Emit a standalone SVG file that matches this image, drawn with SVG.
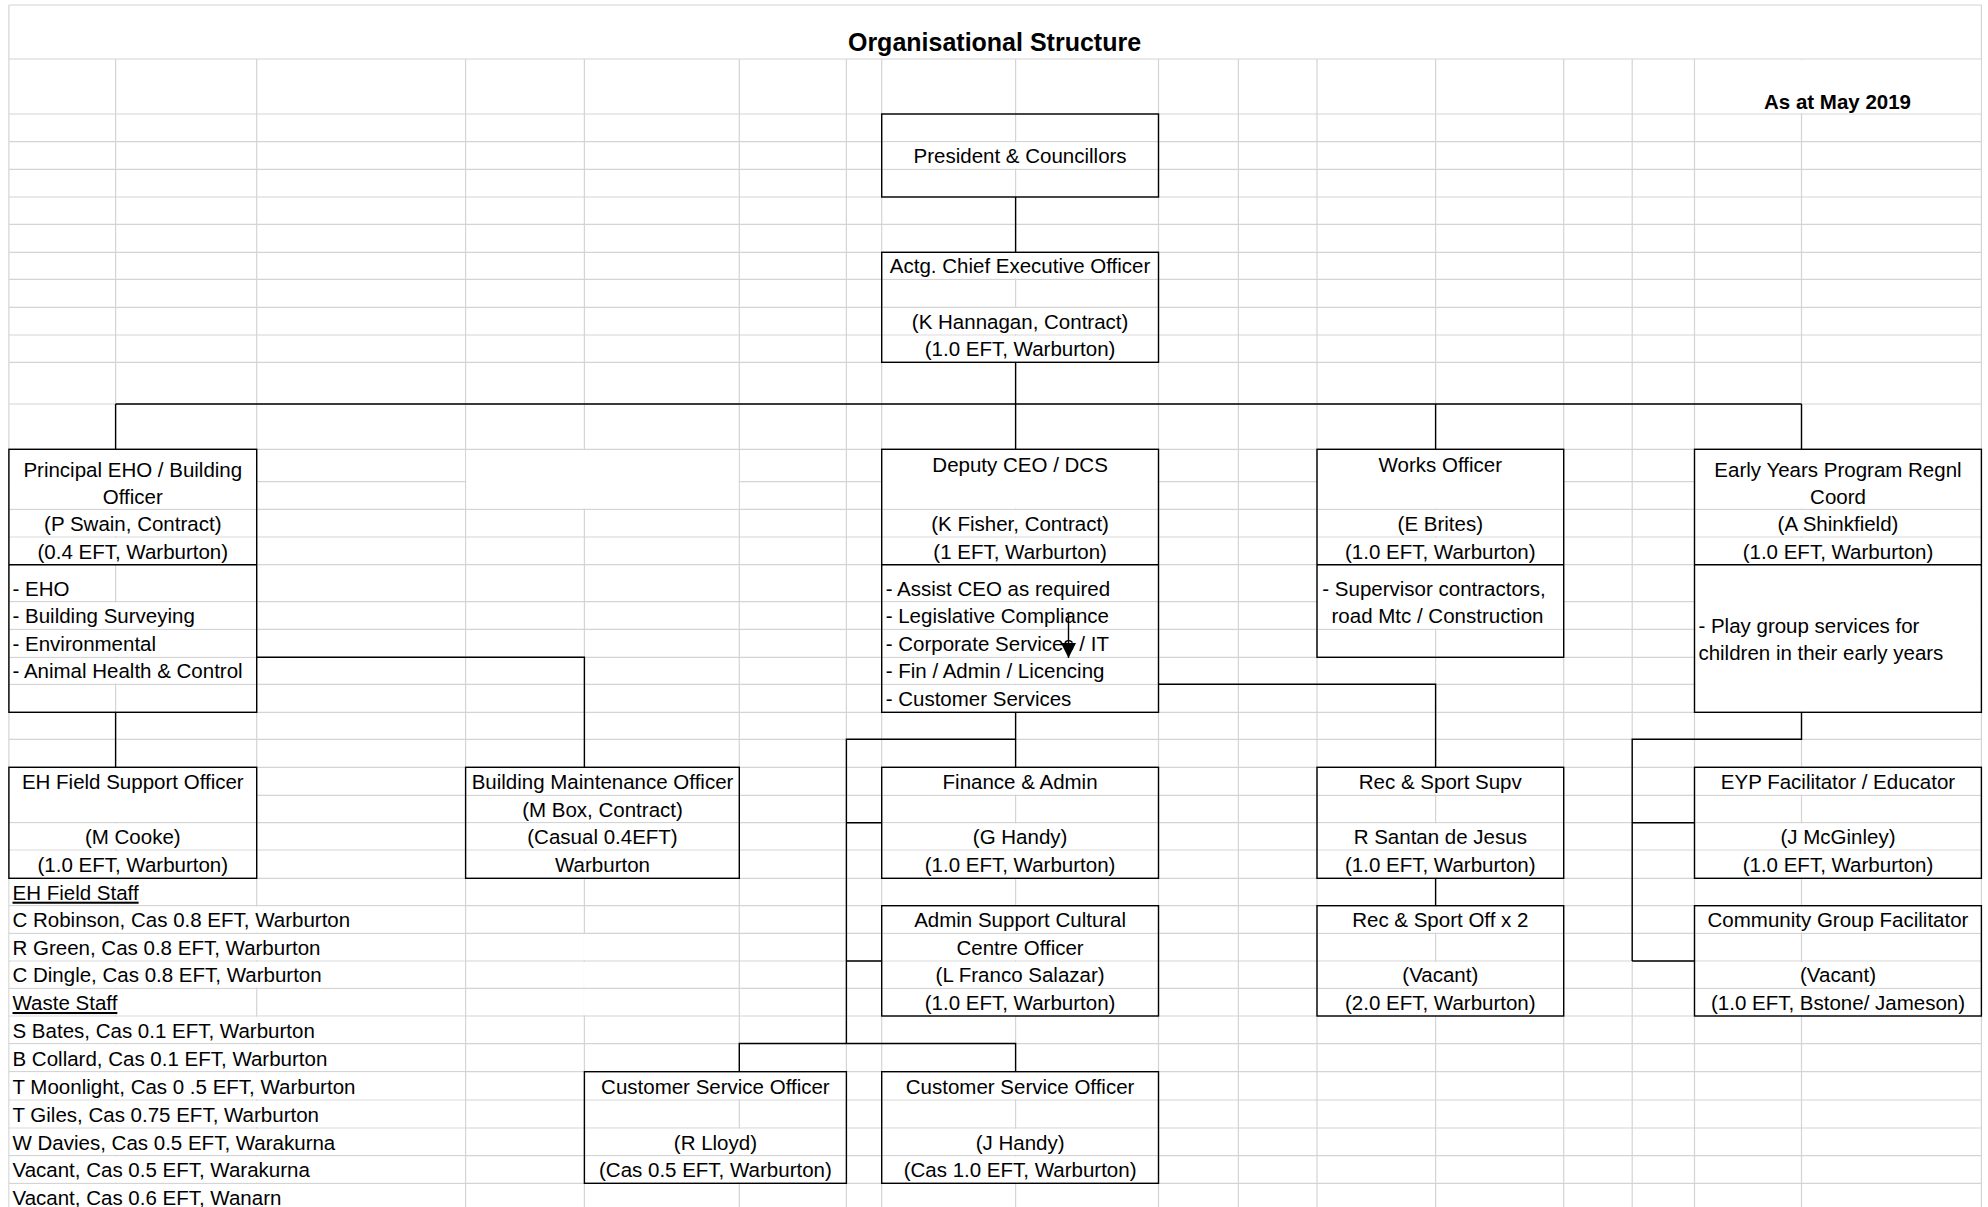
<svg xmlns="http://www.w3.org/2000/svg" width="1988" height="1207" viewBox="0 0 1988 1207">
<style>
.g{stroke:#d4d4d4;stroke-width:1.2;fill:none}
.m{fill:#fff}
.b{fill:none;stroke:#000;stroke-width:1.4}
.c{fill:none;stroke:#000;stroke-width:1.4}
text{font-family:"Liberation Sans",Arial,sans-serif;font-size:20.5px;fill:#000}
.t{text-anchor:middle}
.u{text-decoration:underline}
.h{font-weight:bold;font-size:25px}
.k{font-weight:bold}
</style>
<defs>
<marker id="ah" markerUnits="userSpaceOnUse" viewBox="0 0 15 15" refX="15" refY="7.5" markerWidth="15" markerHeight="15" orient="auto">
<path d="M0,0 L15,7.5 L0,15 z" fill="#000"/>
</marker>
</defs>
<rect width="1988" height="1207" fill="#fff"/>
<g id="grid">
<path class="g" d="M8.9,5V1207M1981.4,5V1207M115.6,59V1207M256.7,59V1207M465.6,59V1207M584.4,59V1207M739.3,59V1207M846.4,59V1207M881.7,59V1207M1015.6,59V1207M1158.5,59V1207M1238.4,59V1207M1317,59V1207M1435.6,59V1207M1563.7,59V1207M1632.2,59V1207M1694.5,59V1207M1801.5,59V1207
M8.9,5H1981.4M8.9,59H1981.4M8.9,114H1981.4M8.9,141.7H1981.4M8.9,169.3H1981.4M8.9,197H1981.4M8.9,224.3H1981.4M8.9,252.3H1981.4M8.9,279.3H1981.4M8.9,307.3H1981.4M8.9,335H1981.4M8.9,362.3H1981.4M8.9,404H1981.4M8.9,449.3H1981.4M8.9,481.7H1981.4M8.9,509.3H1981.4M8.9,537H1981.4M8.9,564.7H1981.4M8.9,601.7H1981.4M8.9,629.3H1981.4M8.9,657.3H1981.4M8.9,684.3H1981.4M8.9,712.3H1981.4M8.9,739.3H1981.4M8.9,767.3H1981.4M8.9,795.3H1981.4M8.9,822.7H1981.4M8.9,850H1981.4M8.9,878.3H1981.4M8.9,905.7H1981.4M8.9,933.3H1981.4M8.9,961H1981.4M8.9,988.3H1981.4M8.9,1016H1981.4M8.9,1043.7H1981.4M8.9,1071.7H1981.4M8.9,1100H1981.4M8.9,1128H1981.4M8.9,1155.7H1981.4M8.9,1183.3H1981.4"/>
<rect class="m" x="1695.3" y="59.8" width="285.3" height="53.4"/>
<rect class="m" x="466.4" y="450.1" width="272.1" height="58.4"/>
<rect class="m" x="583.4" y="934.1" width="2" height="26.1"/>
<rect class="m" x="583.4" y="961.8" width="2" height="25.7"/>
<rect class="m" x="583.4" y="989.1" width="2" height="26.1"/>
</g>
<g id="header">
<text class="t h" x="994.5" y="51">Organisational Structure</text>
<text class="k" x="1764" y="108.5">As at May 2019</text>
</g>
<g id="president">
<rect class="m" x="882.5" y="142.5" width="275.2" height="26"/>
<rect class="b" x="881.7" y="114" width="276.8" height="83"/>
<text class="t" x="1020.1" y="163.3">President &amp; Councillors</text>
</g>
<g id="ceo">
<rect class="m" x="882.5" y="253.1" width="275.2" height="25.4"/>
<rect class="m" x="882.5" y="308.1" width="275.2" height="26.1"/>
<rect class="m" x="882.5" y="335.8" width="275.2" height="25.7"/>
<rect class="b" x="881.7" y="252.3" width="276.8" height="110"/>
<text class="t" x="1020.1" y="273.3">Actg. Chief Executive Officer</text>
<text class="t" x="1020.1" y="329">(K Hannagan, Contract)</text>
<text class="t" x="1020.1" y="356.3">(1.0 EFT, Warburton)</text>
</g>
<g id="principal-eho">
<rect class="m" x="9.7" y="450.1" width="246.2" height="58.4"/>
<rect class="m" x="9.7" y="510.1" width="246.2" height="26.1"/>
<rect class="m" x="9.7" y="537.8" width="246.2" height="26.1"/>
<rect class="m" x="9.7" y="602.5" width="246.2" height="26"/>
<rect class="m" x="9.7" y="630.1" width="246.2" height="26.4"/>
<rect class="m" x="9.7" y="658.1" width="246.2" height="25.4"/>
<rect class="b" x="8.9" y="449.3" width="247.8" height="263"/>
<line class="b" x1="8.9" y1="564.7" x2="256.7" y2="564.7"/>
<text class="t" x="132.8" y="477">Principal EHO / Building</text>
<text class="t" x="132.8" y="503.5">Officer</text>
<text class="t" x="132.8" y="531">(P Swain, Contract)</text>
<text class="t" x="132.8" y="558.7">(0.4 EFT, Warburton)</text>
<text x="12.5" y="595.7">- EHO</text>
<text x="12.5" y="623.3">- Building Surveying</text>
<text x="12.5" y="651.3">- Environmental</text>
<text x="12.5" y="678.3">- Animal Health &amp; Control</text>
</g>
<g id="deputy-ceo">
<rect class="m" x="882.5" y="450.1" width="275.2" height="58.4"/>
<rect class="m" x="882.5" y="510.1" width="275.2" height="26.1"/>
<rect class="m" x="882.5" y="537.8" width="275.2" height="26.1"/>
<rect class="m" x="882.5" y="565.5" width="275.2" height="35.4"/>
<rect class="m" x="882.5" y="602.5" width="275.2" height="26"/>
<rect class="m" x="882.5" y="630.1" width="275.2" height="26.4"/>
<rect class="m" x="882.5" y="658.1" width="275.2" height="25.4"/>
<rect class="m" x="882.5" y="685.1" width="275.2" height="26.4"/>
<rect class="b" x="881.7" y="449.3" width="276.8" height="263"/>
<line class="b" x1="881.7" y1="564.7" x2="1158.5" y2="564.7"/>
<text class="t" x="1020.1" y="472">Deputy CEO / DCS</text>
<text class="t" x="1020.1" y="531">(K Fisher, Contract)</text>
<text class="t" x="1020.1" y="558.7">(1 EFT, Warburton)</text>
<text x="885.7" y="595.7">- Assist CEO as required</text>
<text x="885.7" y="623.3">- Legislative Compliance</text>
<text x="885.7" y="651.3">- Corporate Services / IT</text>
<text x="885.7" y="678.3">- Fin / Admin / Licencing</text>
<text x="885.7" y="706.3">- Customer Services</text>
</g>
<g id="works-officer">
<rect class="m" x="1317.8" y="450.1" width="245.1" height="58.4"/>
<rect class="m" x="1317.8" y="510.1" width="245.1" height="26.1"/>
<rect class="m" x="1317.8" y="537.8" width="245.1" height="26.1"/>
<rect class="m" x="1317.8" y="565.5" width="245.1" height="63"/>
<rect class="b" x="1317" y="449.3" width="246.7" height="208"/>
<line class="b" x1="1317" y1="564.7" x2="1563.7" y2="564.7"/>
<text class="t" x="1440.3" y="472">Works Officer</text>
<text class="t" x="1440.3" y="531">(E Brites)</text>
<text class="t" x="1440.3" y="558.7">(1.0 EFT, Warburton)</text>
<text class="t" x="1434" y="595.7">- Supervisor contractors,</text>
<text class="t" x="1437.5" y="623.3">road Mtc / Construction</text>
</g>
<g id="early-years">
<rect class="m" x="1695.3" y="450.1" width="285.3" height="58.4"/>
<rect class="m" x="1695.3" y="510.1" width="285.3" height="26.1"/>
<rect class="m" x="1695.3" y="537.8" width="285.3" height="26.1"/>
<rect class="m" x="1695.3" y="565.5" width="285.3" height="146"/>
<rect class="b" x="1694.5" y="449.3" width="286.9" height="263"/>
<line class="b" x1="1694.5" y1="564.7" x2="1981.4" y2="564.7"/>
<text class="t" x="1838" y="477">Early Years Program Regnl</text>
<text class="t" x="1838" y="503.5">Coord</text>
<text class="t" x="1838" y="531">(A Shinkfield)</text>
<text class="t" x="1838" y="558.7">(1.0 EFT, Warburton)</text>
<text x="1698.4" y="633">- Play group services for</text>
<text x="1698.4" y="660.3">children in their early years</text>
</g>
<g id="eh-field-support">
<rect class="m" x="9.7" y="768.1" width="246.2" height="53.8"/>
<rect class="m" x="9.7" y="823.5" width="246.2" height="25.7"/>
<rect class="m" x="9.7" y="850.8" width="246.2" height="26.7"/>
<rect class="b" x="8.9" y="767.3" width="247.8" height="111"/>
<text class="t" x="132.8" y="789.3">EH Field Support Officer</text>
<text class="t" x="132.8" y="844">(M Cooke)</text>
<text class="t" x="132.8" y="872.3">(1.0 EFT, Warburton)</text>
</g>
<g id="building-maintenance">
<rect class="m" x="466.4" y="768.1" width="272.1" height="26.4"/>
<rect class="m" x="466.4" y="796.1" width="272.1" height="25.8"/>
<rect class="m" x="466.4" y="823.5" width="272.1" height="25.7"/>
<rect class="m" x="466.4" y="850.8" width="272.1" height="26.7"/>
<rect class="b" x="465.6" y="767.3" width="273.7" height="111"/>
<text class="t" x="602.5" y="789.3">Building Maintenance Officer</text>
<text class="t" x="602.5" y="816.7">(M Box, Contract)</text>
<text class="t" x="602.5" y="844">(Casual 0.4EFT)</text>
<text class="t" x="602.5" y="872.3">Warburton</text>
</g>
<g id="finance-admin">
<rect class="m" x="882.5" y="768.1" width="275.2" height="26.4"/>
<rect class="m" x="882.5" y="823.5" width="275.2" height="25.7"/>
<rect class="m" x="882.5" y="850.8" width="275.2" height="26.7"/>
<rect class="b" x="881.7" y="767.3" width="276.8" height="111"/>
<text class="t" x="1020.1" y="789.3">Finance &amp; Admin</text>
<text class="t" x="1020.1" y="844">(G Handy)</text>
<text class="t" x="1020.1" y="872.3">(1.0 EFT, Warburton)</text>
</g>
<g id="admin-support">
<rect class="m" x="882.5" y="906.5" width="275.2" height="26"/>
<rect class="m" x="882.5" y="934.1" width="275.2" height="26.1"/>
<rect class="m" x="882.5" y="961.8" width="275.2" height="25.7"/>
<rect class="m" x="882.5" y="989.1" width="275.2" height="26.1"/>
<rect class="b" x="881.7" y="905.7" width="276.8" height="110.3"/>
<text class="t" x="1020.1" y="927.3">Admin Support Cultural</text>
<text class="t" x="1020.1" y="955">Centre Officer</text>
<text class="t" x="1020.1" y="982.3">(L Franco Salazar)</text>
<text class="t" x="1020.1" y="1010">(1.0 EFT, Warburton)</text>
</g>
<g id="rec-sport-supv">
<rect class="m" x="1317.8" y="768.1" width="245.1" height="26.4"/>
<rect class="m" x="1317.8" y="823.5" width="245.1" height="25.7"/>
<rect class="m" x="1317.8" y="850.8" width="245.1" height="26.7"/>
<rect class="b" x="1317" y="767.3" width="246.7" height="111"/>
<text class="t" x="1440.3" y="789.3">Rec &amp; Sport Supv</text>
<text class="t" x="1440.3" y="844">R Santan de Jesus</text>
<text class="t" x="1440.3" y="872.3">(1.0 EFT, Warburton)</text>
</g>
<g id="rec-sport-off">
<rect class="m" x="1317.8" y="906.5" width="245.1" height="26"/>
<rect class="m" x="1317.8" y="961.8" width="245.1" height="25.7"/>
<rect class="m" x="1317.8" y="989.1" width="245.1" height="26.1"/>
<rect class="b" x="1317" y="905.7" width="246.7" height="110.3"/>
<text class="t" x="1440.3" y="927.3">Rec &amp; Sport Off x 2</text>
<text class="t" x="1440.3" y="982.3">(Vacant)</text>
<text class="t" x="1440.3" y="1010">(2.0 EFT, Warburton)</text>
</g>
<g id="eyp-facilitator">
<rect class="m" x="1695.3" y="768.1" width="285.3" height="26.4"/>
<rect class="m" x="1695.3" y="823.5" width="285.3" height="25.7"/>
<rect class="m" x="1695.3" y="850.8" width="285.3" height="26.7"/>
<rect class="b" x="1694.5" y="767.3" width="286.9" height="111"/>
<text class="t" x="1838" y="789.3">EYP Facilitator / Educator</text>
<text class="t" x="1838" y="844">(J McGinley)</text>
<text class="t" x="1838" y="872.3">(1.0 EFT, Warburton)</text>
</g>
<g id="community-group">
<rect class="m" x="1695.3" y="906.5" width="285.3" height="26"/>
<rect class="m" x="1695.3" y="961.8" width="285.3" height="25.7"/>
<rect class="m" x="1695.3" y="989.1" width="285.3" height="26.1"/>
<rect class="b" x="1694.5" y="905.7" width="286.9" height="110.3"/>
<text class="t" x="1838" y="927.3">Community Group Facilitator</text>
<text class="t" x="1838" y="982.3">(Vacant)</text>
<text class="t" x="1838" y="1010">(1.0 EFT, Bstone/ Jameson)</text>
</g>
<g id="cso-lloyd">
<rect class="m" x="585.2" y="1072.5" width="260.4" height="26.7"/>
<rect class="m" x="585.2" y="1128.8" width="260.4" height="26.1"/>
<rect class="m" x="585.2" y="1156.5" width="260.4" height="26"/>
<rect class="b" x="584.4" y="1071.7" width="262" height="111.6"/>
<text class="t" x="715.4" y="1094">Customer Service Officer</text>
<text class="t" x="715.4" y="1149.7">(R Lloyd)</text>
<text class="t" x="715.4" y="1177.3">(Cas 0.5 EFT, Warburton)</text>
</g>
<g id="cso-handy">
<rect class="m" x="882.5" y="1072.5" width="275.2" height="26.7"/>
<rect class="m" x="882.5" y="1128.8" width="275.2" height="26.1"/>
<rect class="m" x="882.5" y="1156.5" width="275.2" height="26"/>
<rect class="b" x="881.7" y="1071.7" width="276.8" height="111.6"/>
<text class="t" x="1020.1" y="1094">Customer Service Officer</text>
<text class="t" x="1020.1" y="1149.7">(J Handy)</text>
<text class="t" x="1020.1" y="1177.3">(Cas 1.0 EFT, Warburton)</text>
</g>
<g id="staff-list">
<rect class="m" x="9.7" y="879.1" width="246.2" height="25.8"/>
<rect class="m" x="9.7" y="906.5" width="455" height="26"/>
<rect class="m" x="9.7" y="934.1" width="455" height="26.1"/>
<rect class="m" x="9.7" y="961.8" width="455" height="25.7"/>
<rect class="m" x="9.7" y="989.1" width="246.2" height="26.1"/>
<rect class="m" x="9.7" y="1016.8" width="455" height="26.1"/>
<rect class="m" x="9.7" y="1044.5" width="455" height="26.4"/>
<rect class="m" x="9.7" y="1072.5" width="455" height="26.7"/>
<rect class="m" x="9.7" y="1100.8" width="455" height="26.4"/>
<rect class="m" x="9.7" y="1128.8" width="455" height="26.1"/>
<rect class="m" x="9.7" y="1156.5" width="455" height="26"/>
<rect class="m" x="9.7" y="1184.1" width="455" height="30"/>
<text class="u" x="12.5" y="899.7">EH Field Staff</text>
<text x="12.5" y="927.3">C Robinson, Cas 0.8 EFT, Warburton</text>
<text x="12.5" y="955">R Green, Cas 0.8 EFT, Warburton</text>
<text x="12.5" y="982.3">C Dingle, Cas 0.8 EFT, Warburton</text>
<text class="u" x="12.5" y="1010">Waste Staff</text>
<text x="12.5" y="1037.7">S Bates, Cas 0.1 EFT, Warburton</text>
<text x="12.5" y="1065.7">B Collard, Cas 0.1 EFT, Warburton</text>
<text x="12.5" y="1094">T Moonlight, Cas 0 .5 EFT, Warburton</text>
<text x="12.5" y="1122">T Giles, Cas 0.75 EFT, Warburton</text>
<text x="12.5" y="1149.7">W Davies, Cas 0.5 EFT, Warakurna</text>
<text x="12.5" y="1177.3">Vacant, Cas 0.5 EFT, Warakurna</text>
<text x="12.5" y="1205">Vacant, Cas 0.6 EFT, Wanarn</text>
</g>
<g id="connectors">
<path class="c" d="M1015.6,197V252.3M1015.6,362.3V449.3M115.6,404H1801.5M115.6,404V449.3M1435.6,404V449.3M1801.5,404V449.3"/>
<path class="c" d="M115.6,712.3V767.3M256.7,657.3H584.4V767.3"/>
<path class="c" d="M1015.6,712.3V767.3M1015.6,739.3H846.4V1043.5M846.4,822.7H881.7M846.4,961H881.7M739.3,1071.7V1043.5H1015.6V1071.7"/>
<path class="c" d="M1158.5,684.3H1435.6V767.3M1435.6,878.3V905.7"/>
<path class="c" d="M1801.5,712.3V739.3H1632.2V961M1632.2,822.7H1694.5M1632.2,961H1694.5"/>
<line class="c" x1="1068.5" y1="614" x2="1068.5" y2="658" marker-end="url(#ah)"/>
</g>
</svg>
